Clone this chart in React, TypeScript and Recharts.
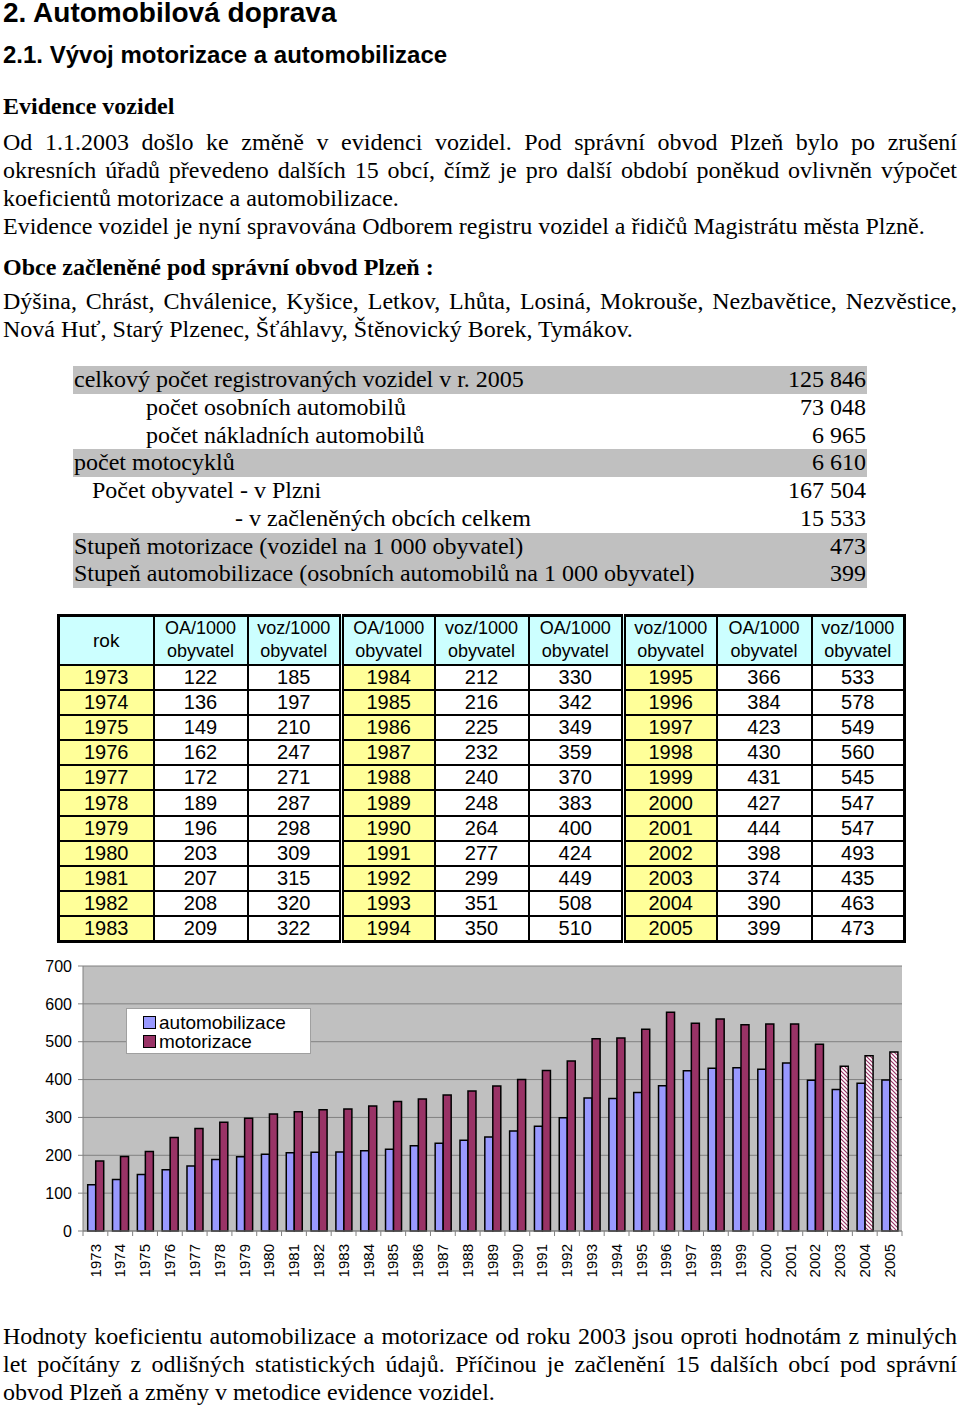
import React, { useLayoutEffect, useRef, useState } from 'react';
import { BarChart, Bar, XAxis, YAxis, CartesianGrid, Legend, Cell } from 'recharts';

const years = [
  '1973', '1974', '1975', '1976', '1977', '1978', '1979', '1980', '1981', '1982', '1983',
  '1984', '1985', '1986', '1987', '1988', '1989', '1990', '1991', '1992', '1993', '1994',
  '1995', '1996', '1997', '1998', '1999', '2000', '2001', '2002', '2003', '2004', '2005'
];
const automobilizace = [
  122, 136, 149, 162, 172, 189, 196, 203, 207, 208, 209,
  212, 216, 225, 232, 240, 248, 264, 277, 299, 351, 350,
  366, 384, 423, 430, 431, 427, 444, 398, 374, 390, 399
];
const motorizace = [
  185, 197, 210, 247, 271, 287, 298, 309, 315, 320, 322,
  330, 342, 349, 359, 370, 383, 400, 424, 449, 508, 510,
  533, 578, 549, 560, 545, 547, 547, 493, 435, 463, 473
];
// years counted with the new methodology (hatched bars)
const newMethodYears = ['2003', '2004', '2005'];
const yTicks = [0, 100, 200, 300, 400, 500, 600, 700];

const summaryLabels = [
  'celkový počet registrovaných vozidel v r. 2005',
  'počet osobních automobilů',
  'počet nákladních automobilů',
  'počet motocyklů',
  'Počet obyvatel - v Plzni',
  '- v začleněných obcích celkem',
  'Stupeň motorizace (vozidel na 1 000 obyvatel)',
  'Stupeň automobilizace (osobních automobilů na 1 000 obyvatel)'
];
const summaryValues = ['125 846', '73 048', '6 965', '6 610', '167 504', '15 533', '473', '399'];

const chartData = years.map((rok, i) => ({
  rok,
  automobilizace: automobilizace[i],
  motorizace: motorizace[i]
}));

const SERIF = '"Liberation Serif", "Times New Roman", serif';
const SANS = '"Liberation Sans", Arial, sans-serif';

const PLOT_LEFT = 83;
const PLOT_RIGHT = 902;
const BLUE = '#9999ff';
const MAROON = '#993366';

// layout of summary rows (indent + grey band)
const summaryIndent = [1, 73, 73, 1, 19, 162, 1, 1];
const summaryGrey = [true, false, false, true, false, false, true, true];

const YearTick = (props: any) => {
  const { x, y, payload, index } = props;
  const half = (PLOT_RIGHT - PLOT_LEFT) / years.length / 2;
  const axisY = y - 13;
  return (
    <g>
      <line x1={x - half} x2={x - half} y1={axisY} y2={axisY + 5} stroke="#808080" />
      {index === years.length - 1 && (
        <line x1={x + half} x2={x + half} y1={axisY} y2={axisY + 5} stroke="#808080" />
      )}
      <text
        x={x}
        y={y}
        dy="0.35em"
        transform={`rotate(-90, ${x}, ${y})`}
        textAnchor="end"
        fontSize={15}
        fontFamily={SANS}
        fill="#000"
      >
        {payload.value}
      </text>
    </g>
  );
};

const ChartLegend = () => (
  <div
    style={{
      width: 185,
      height: 46,
      background: '#fff',
      border: '1px solid #a0a0a0',
      fontFamily: SANS,
      fontSize: 19,
      lineHeight: '19px',
      paddingTop: 4,
      boxSizing: 'border-box'
    }}
  >
    {[
      { name: 'automobilizace', color: BLUE },
      { name: 'motorizace', color: MAROON }
    ].map((it) => (
      <div key={it.name} style={{ display: 'flex', alignItems: 'center', paddingLeft: 16 }}>
        <span
          style={{
            display: 'inline-block',
            width: 11,
            height: 11,
            background: it.color,
            border: '1px solid #000',
            marginRight: 3
          }}
        />
        <span>{it.name}</span>
      </div>
    ))}
  </div>
);

// one line of body text; shrinks horizontally if it would not fit
const TextLine = ({
  top,
  text,
  justify = false,
  bold = false
}: {
  top: number;
  text: string;
  justify?: boolean;
  bold?: boolean;
}) => {
  const width = 954;
  const measure = useRef<HTMLSpanElement>(null);
  const [scale, setScale] = useState(1);
  useLayoutEffect(() => {
    if (measure.current) {
      const w = measure.current.getBoundingClientRect().width;
      setScale(w > width ? width / w : 1);
    }
  }, [text]);
  const font: React.CSSProperties = {
    fontFamily: SERIF,
    fontSize: 24,
    fontWeight: bold ? 'bold' : 'normal',
    whiteSpace: 'nowrap'
  };
  return (
    <>
      <span ref={measure} style={{ ...font, position: 'absolute', top: 0, left: 0, visibility: 'hidden' }}>
        {text}
      </span>
      <div
        style={{
          ...font,
          position: 'absolute',
          top,
          left: 3,
          width: width / scale,
          height: 28,
          lineHeight: '28px',
          textAlign: justify ? 'justify' : 'left',
          textAlignLast: justify ? 'justify' : 'auto',
          transform: `scaleX(${scale})`,
          transformOrigin: 'left top'
        } as React.CSSProperties}
      >
        {text}
      </div>
    </>
  );
};

const cellBase: React.CSSProperties = {
  border: '2px solid #000',
  textAlign: 'center',
  padding: 0,
  fontFamily: SANS
};

const DataTable = () => {
  const groups = [0, 11, 22];
  const rows = Array.from({ length: 11 }, (_, r) => r);
  const colW = [95, 94, 94, 93, 94, 95, 93, 95, 93];
  return (
    <table
      style={{
        position: 'absolute',
        top: 614,
        left: 57,
        width: 846,
        borderCollapse: 'collapse',
        tableLayout: 'fixed',
        border: '3px solid #000'
      }}
    >
      <colgroup>
        {colW.map((w, i) => (
          <col key={i} style={{ width: w }} />
        ))}
      </colgroup>
      <tbody>
        <tr style={{ height: 49 }}>
          {groups.map((g, gi) =>
            [0, 1, 2].map((c) => {
              const isRok = gi === 0 && c === 0;
              const label = (gi + c) % 2 === 1 ? 'OA/1000' : 'voz/1000';
              return (
                <td
                  key={`${gi}-${c}`}
                  style={{
                    ...cellBase,
                    background: '#ccffff',
                    fontSize: isRok ? 19 : 18,
                    lineHeight: '23px',
                    borderLeft: gi > 0 && c === 0 ? '5px double #000' : cellBase.border
                  }}
                >
                  {isRok ? (
                    'rok'
                  ) : (
                    <>
                      {label}
                      <br />
                      obyvatel
                    </>
                  )}
                </td>
              );
            })
          )}
        </tr>
        {rows.map((r) => (
          <tr key={r} style={{ height: 25.2 }}>
            {groups.map((g, gi) => {
              const i = g + r;
              return [years[i], String(automobilizace[i]), String(motorizace[i])].map((v, c) => (
                <td
                  key={`${gi}-${c}`}
                  style={{
                    ...cellBase,
                    fontSize: 20,
                    lineHeight: '21px',
                    background: c === 0 ? '#ffff99' : '#fff',
                    borderLeft: gi > 0 && c === 0 ? '5px double #000' : cellBase.border
                  }}
                >
                  {v}
                </td>
              ));
            })}
          </tr>
        ))}
      </tbody>
    </table>
  );
};

export default function App() {
  return (
    <div
      style={{
        position: 'absolute',
        top: 0,
        left: 0,
        width: 960,
        height: 1409,
        overflow: 'hidden',
        background: '#fff',
        color: '#000'
      }}
    >
      <svg width={0} height={0} style={{ position: 'absolute' }}>
        <defs>
          <pattern id="hatch" width={4} height={4} patternUnits="userSpaceOnUse">
            <rect width={4} height={4} fill="#fff" />
            <path d="M-1,-1 L5,5 M-1,3 L1,5 M3,-1 L5,1" stroke={MAROON} strokeWidth={1.2} />
          </pattern>
        </defs>
      </svg>

      <div style={{ position: 'absolute', top: -1, left: 3, fontFamily: SANS, fontWeight: 'bold', fontSize: 28, lineHeight: '28px' }}>
        2. Automobilová doprava
      </div>
      <div style={{ position: 'absolute', top: 43, left: 3, fontFamily: SANS, fontWeight: 'bold', fontSize: 24, lineHeight: '24px' }}>
        2.1. Vývoj motorizace a automobilizace
      </div>
      <div style={{ position: 'absolute', top: 94, left: 3, fontFamily: SERIF, fontWeight: 'bold', fontSize: 24, lineHeight: '24px' }}>
        Evidence vozidel
      </div>

      <TextLine top={128} text="Od 1.1.2003 došlo ke změně v evidenci vozidel. Pod správní obvod Plzeň bylo po zrušení" justify />
      <TextLine top={156} text="okresních úřadů převedeno dalších 15 obcí, čímž je pro další období poněkud ovlivněn výpočet" justify />
      <TextLine top={184} text="koeficientů motorizace a automobilizace." />
      <TextLine top={212} text="Evidence vozidel je nyní spravována Odborem registru vozidel a řidičů Magistrátu města Plzně." />
      <TextLine top={253} text="Obce začleněné pod správní obvod Plzeň :" bold />
      <TextLine top={287} text="Dýšina, Chrást, Chválenice, Kyšice, Letkov, Lhůta, Losiná, Mokrouše, Nezbavětice, Nezvěstice," justify />
      <TextLine top={315} text="Nová Huť, Starý Plzenec, Šťáhlavy, Štěnovický Borek, Tymákov." />

      {summaryLabels.map((lab, i) => (
        <div
          key={lab}
          style={{
            position: 'absolute',
            top: 366 + i * 27.75,
            left: 73,
            width: 794,
            height: 27.75,
            lineHeight: '27.75px',
            background: summaryGrey[i] ? '#c0c0c0' : 'transparent',
            fontFamily: SERIF,
            fontSize: 24,
            whiteSpace: 'nowrap'
          }}
        >
          <span style={{ position: 'absolute', left: summaryIndent[i] }}>{lab}</span>
          <span style={{ position: 'absolute', right: 1 }}>{summaryValues[i]}</span>
        </div>
      ))}

      <DataTable />

      <div style={{ position: 'absolute', top: 950, left: 0 }}>
        <BarChart
          width={960}
          height={340}
          data={chartData}
          margin={{ top: 16, right: 58, left: 0, bottom: 9 }}
          barCategoryGap="19%"
          barGap={0}
        >
          <CartesianGrid vertical={false} stroke="#808080" fill="#c0c0c0" fillOpacity={1} />
          <XAxis
            dataKey="rok"
            interval={0}
            height={50}
            tickSize={5}
            tickMargin={8}
            tickLine={false}
            axisLine={{ stroke: '#808080' }}
            tick={<YearTick />}
          />
          <YAxis
            domain={[0, 700]}
            ticks={yTicks}
            width={83}
            tickSize={5}
            tickMargin={6}
            axisLine={{ stroke: '#808080' }}
            tickLine={{ stroke: '#808080' }}
            tick={{ fontSize: 16, fontFamily: SANS, fill: '#000' }}
          />
          <YAxis
            yAxisId="r"
            orientation="right"
            domain={[0, 700]}
            width={0}
            tick={false}
            tickLine={false}
            axisLine={{ stroke: '#808080' }}
          />
          <Legend
            layout="vertical"
            align="center"
            verticalAlign="middle"
            content={<ChartLegend />}
            wrapperStyle={{ left: 126, top: 58, width: 185 }}
          />
          <Bar
            dataKey="automobilizace"
            name="automobilizace"
            fill={BLUE}
            stroke="#000"
            strokeWidth={1.5}
            isAnimationActive={false}
          />
          <Bar
            dataKey="motorizace"
            name="motorizace"
            fill={MAROON}
            stroke="#000"
            strokeWidth={1.5}
            isAnimationActive={false}
          >
            {chartData.map((d) => (
              <Cell key={d.rok} fill={newMethodYears.includes(d.rok) ? 'url(#hatch)' : MAROON} />
            ))}
          </Bar>
        </BarChart>
      </div>

      <TextLine top={1322} text="Hodnoty koeficientu  automobilizace a motorizace od roku 2003 jsou oproti hodnotám z minulých" justify />
      <TextLine top={1350} text="let počítány z odlišných statistických údajů. Příčinou je začlenění 15 dalších obcí pod správní" justify />
      <TextLine top={1378} text="obvod Plzeň a změny v metodice evidence vozidel." />
    </div>
  );
}
